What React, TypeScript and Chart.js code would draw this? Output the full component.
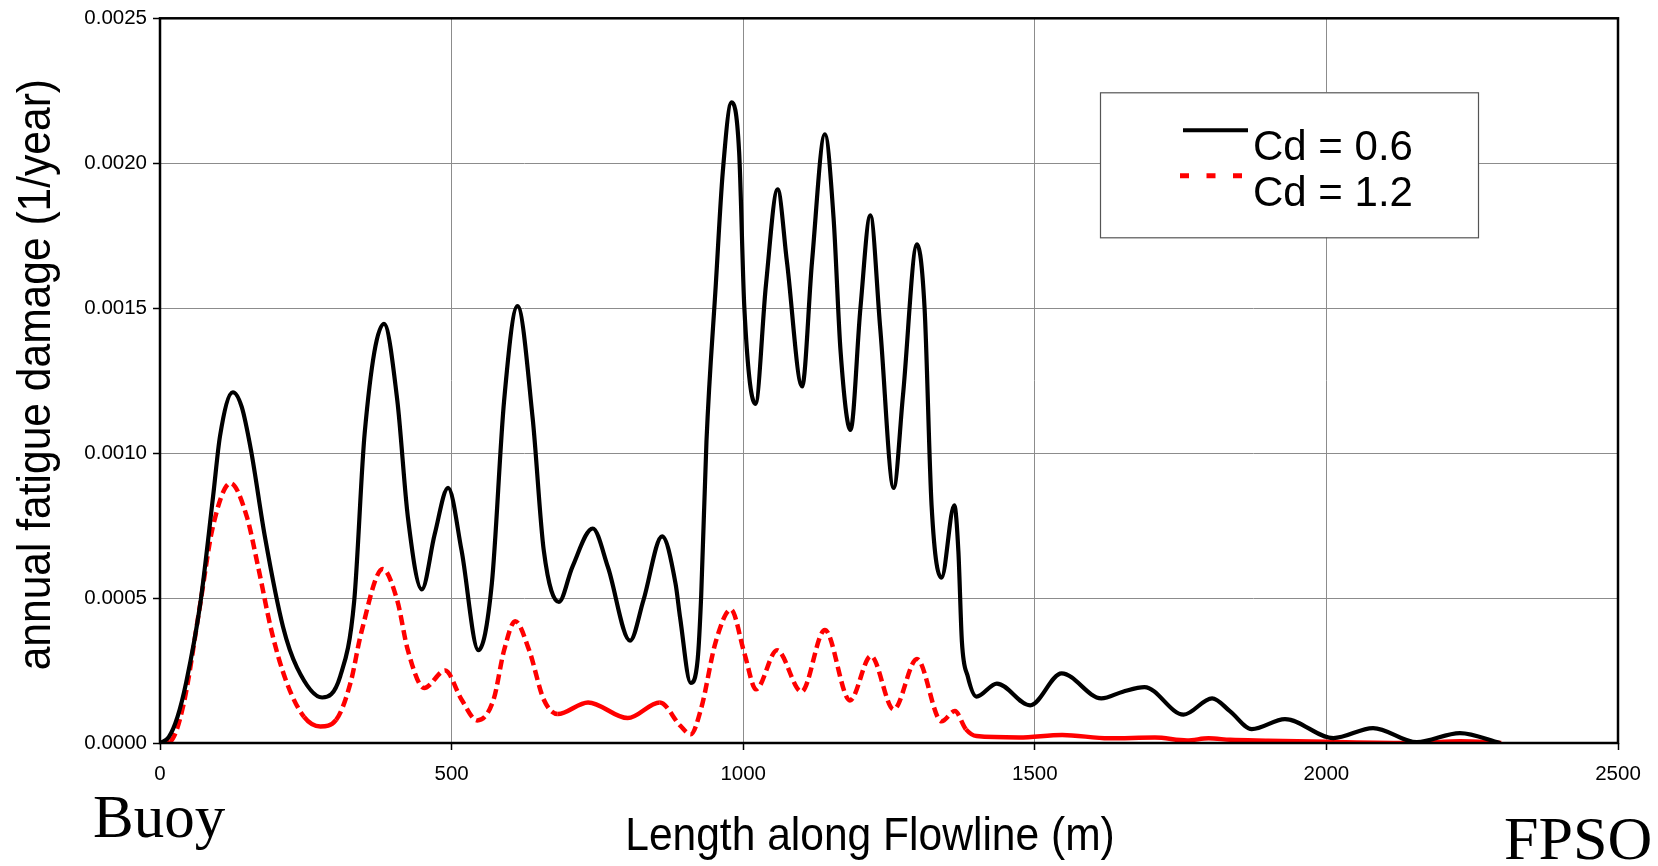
import React, { useEffect, useRef } from 'react';
import { Chart, registerables } from 'chart.js';

Chart.register(...registerables);

// ---- text ----
const seriesLabels = ['Cd = 0.6', 'Cd = 1.2'];
const xAxisTitle = 'Length along Flowline (m)';
const yAxisTitle = 'annual fatigue damage (1/year)';
const leftEndLabel = 'Buoy';
const rightEndLabel = 'FPSO';

// ---- ticks ----
const xTicks = [0, 500, 1000, 1500, 2000, 2500];
const yTicks = [0, 0.0005, 0.001, 0.0015, 0.002, 0.0025];

// ---- Cd = 0.6 (black, solid) ----
const cd06X = [
  0, 15, 30, 45, 69, 91, 103, 125, 140, 156, 180, 211, 235, 278, 309, 333, 351, 384, 407, 425,
  449, 471, 494, 517, 546, 569, 590, 613, 639, 658, 684, 707, 742, 768, 806, 829, 861, 884, 892, 910,
  922, 928, 937, 953, 965, 980, 993, 1002, 1021, 1039, 1059, 1075, 1101, 1118, 1140, 1155, 1167, 1184, 1201, 1218,
  1235, 1258, 1274, 1298, 1311, 1323, 1340, 1362, 1369, 1375, 1385, 1400, 1435, 1492, 1546, 1614, 1651, 1688, 1755, 1804,
  1835, 1872, 1929, 2012, 2080, 2155, 2229, 2298,
];
const cd06Y = [
  0, 0.00002, 0.00009, 0.00021, 0.00048, 0.00085, 0.00106, 0.00121, 0.00116, 0.00101, 0.00071, 0.0004, 0.00026, 0.000157, 0.00023, 0.00049, 0.00107, 0.001446, 0.00118, 0.00078,
  0.00053, 0.00072, 0.00088, 0.000665, 0.00032, 0.00055, 0.00118, 0.001507, 0.00112, 0.000665, 0.000487, 0.000607, 0.00074, 0.000607, 0.000353, 0.000493, 0.000713, 0.00055, 0.00043, 0.000207,
  0.00029, 0.00051, 0.00104, 0.00158, 0.00197, 0.00221, 0.00204, 0.0015, 0.00117, 0.00158, 0.00191, 0.00166, 0.00123, 0.00166, 0.0021, 0.00181, 0.00135, 0.00108, 0.0015, 0.00182,
  0.00143, 0.00088, 0.0012, 0.00172, 0.0015, 0.00082, 0.00057, 0.00082, 0.00066, 0.00035, 0.00023, 0.00016, 0.000205, 0.00013, 0.00024, 0.000154, 0.000177, 0.000193, 0.0000977, 0.000154,
  0.000109, 0.000048, 0.0000825, 0.000017, 0.0000516, 0.000003, 0.0000344, 0,
];

// ---- Cd = 1.2 (red, dashed) ----
const cd12X = [
  0, 17, 40, 69, 90, 121, 149, 168, 192, 217, 247, 275, 302, 327, 345, 382, 407, 425, 453, 489,
  517, 544, 572, 590, 609, 633, 658, 682, 734, 802, 857, 892, 910, 928, 953, 979, 1002, 1022, 1058, 1100,
  1140, 1183, 1219, 1258, 1298, 1340, 1363, 1382, 1400, 1473, 1547, 1627, 1706, 1761, 1798, 1835, 1900, 2000, 2150, 2229,
  2300,
];
const cd12Y = [
  0, 0.000005, 0.00013, 0.00048, 0.00074, 0.000896, 0.00078, 0.00061, 0.00038, 0.00021, 0.00009, 0.000057, 0.00008, 0.00021, 0.00038, 0.0006, 0.00049, 0.00032, 0.00019, 0.00025,
  0.00015, 0.000078, 0.00015, 0.00032, 0.00042, 0.00032, 0.00015, 0.0001, 0.00014, 0.000086, 0.00014, 0.00006, 0.00003, 0.00012, 0.00035, 0.00046, 0.00031, 0.000185, 0.00032, 0.000177,
  0.00039, 0.000147, 0.0003, 0.000116, 0.00029, 0.000075, 0.00011, 0.000047, 0.000024, 0.000019, 0.000028, 0.000016, 0.000019, 0.000009, 0.000016, 0.000011, 0.000008, 0.000004, 0, 0.000006,
  0,
];

const SANS = '"Liberation Sans", Arial, Helvetica, sans-serif';
const SERIF = '"Liberation Serif", "Times New Roman", serif';
const BLACK = '#000000';
const RED = '#ff0000';

const decorPlugin = {
  id: 'decor',
  afterDatasetsDraw(chart: any) {
    const { ctx, chartArea: ca } = chart;
    ctx.save();
    // plot frame
    ctx.strokeStyle = '#000';
    ctx.lineWidth = 2.5;
    ctx.strokeRect(ca.left, ca.top, ca.right - ca.left, ca.bottom - ca.top);

    // legend box
    const lx = ca.left + 940;
    const ly = ca.top + 74;
    const lw = 378;
    const lh = 145;
    ctx.fillStyle = '#fff';
    ctx.fillRect(lx, ly, lw, lh);
    ctx.strokeStyle = '#555';
    ctx.lineWidth = 1.2;
    ctx.strokeRect(lx + 0.5, ly + 0.5, lw, lh);

    // samples
    ctx.lineCap = 'butt';
    ctx.strokeStyle = BLACK;
    ctx.lineWidth = 4;
    ctx.setLineDash([]);
    ctx.beginPath();
    ctx.moveTo(lx + 83, ly + 38);
    ctx.lineTo(lx + 148, ly + 38);
    ctx.stroke();

    ctx.strokeStyle = RED;
    ctx.lineWidth = 5;
    ctx.setLineDash([9, 17.5]);
    ctx.beginPath();
    ctx.moveTo(lx + 80, ly + 83.5);
    ctx.lineTo(lx + 143, ly + 83.5);
    ctx.stroke();
    ctx.setLineDash([]);

    ctx.fillStyle = '#000';
    ctx.font = `42px ${SANS}`;
    ctx.textAlign = 'left';
    ctx.textBaseline = 'alphabetic';
    ctx.fillText(seriesLabels[0], lx + 153, ly + 67.5);
    ctx.fillText(seriesLabels[1], lx + 153, ly + 113.5);
    ctx.restore();
  },
  afterDraw(chart: any) {
    const { ctx, chartArea: ca } = chart;
    ctx.save();
    ctx.fillStyle = '#000';
    ctx.textBaseline = 'alphabetic';

    // x axis title
    ctx.save();
    ctx.translate(ca.left + 710, ca.bottom + 107);
    ctx.scale(0.925, 1);
    ctx.font = `46px ${SANS}`;
    ctx.textAlign = 'center';
    ctx.fillText(xAxisTitle, 0, 0);
    ctx.restore();

    // y axis title
    ctx.save();
    ctx.translate(ca.left - 110, (ca.top + ca.bottom) / 2 - 6);
    ctx.rotate(-Math.PI / 2);
    ctx.scale(0.925, 1);
    ctx.font = `46px ${SANS}`;
    ctx.textAlign = 'center';
    ctx.fillText(yAxisTitle, 0, 0);
    ctx.restore();

    // end labels
    ctx.textAlign = 'left';
    ctx.font = `61px ${SERIF}`;
    ctx.fillText(leftEndLabel, ca.left - 67, ca.bottom + 94);
    ctx.font = `62px ${SERIF}`;
    ctx.fillText(rightEndLabel, ca.right - 114, ca.bottom + 116);
    ctx.restore();
  },
};

function toPoints(xs: number[], ys: number[]) {
  return xs.map((x, i) => ({ x, y: ys[i] }));
}

export default function App() {
  const canvasRef = useRef<HTMLCanvasElement | null>(null);

  useEffect(() => {
    if (!canvasRef.current) return;
    const chart = new Chart(canvasRef.current, {
      type: 'line',
      data: {
        datasets: [
          {
            label: seriesLabels[0],
            data: toPoints(cd06X, cd06Y),
            borderColor: BLACK,
            borderWidth: 4.2,
            pointRadius: 0,
            cubicInterpolationMode: 'monotone',
            fill: false,
          },
          {
            label: seriesLabels[1],
            data: toPoints(cd12X, cd12Y),
            borderColor: RED,
            borderWidth: 4.5,
            pointRadius: 0,
            cubicInterpolationMode: 'monotone',
            fill: false,
            segment: {
              borderDash: (c: any) => {
                const dx = Math.abs(c.p1.x - c.p0.x);
                const dy = Math.abs(c.p1.y - c.p0.y);
                return dy > 0.7 * dx ? [10, 5] : [];
              },
            },
          },
        ],
      },
      options: {
        animation: false,
        responsive: true,
        maintainAspectRatio: false,
        parsing: false as any,
        layout: { padding: { top: 16, right: 40, bottom: 0, left: 0 } },
        plugins: {
          legend: { display: false },
          tooltip: { enabled: false },
          title: { display: false },
        },
        scales: {
          x: {
            type: 'linear',
            min: 0,
            max: 2500,
            afterFit: (s: any) => {
              s.height = 123;
            },
            afterBuildTicks: (s: any) => {
              s.ticks = xTicks.map((v) => ({ value: v }));
            },
            ticks: {
              color: '#000',
              font: { family: SANS, size: 20.5 },
              padding: 12,
              maxRotation: 0,
              autoSkip: false,
              callback: (v: any) => String(v),
            },
            grid: {
              color: '#8c8c8c',
              lineWidth: 1,
              tickColor: '#000',
              tickLength: 7,
              tickWidth: 1.5,
            },
            border: { display: false },
          },
          y: {
            type: 'linear',
            min: 0,
            max: 0.0025,
            afterFit: (s: any) => {
              s.width = 160;
            },
            afterBuildTicks: (s: any) => {
              s.ticks = yTicks.map((v) => ({ value: v }));
            },
            ticks: {
              color: '#000',
              font: { family: SANS, size: 20.5 },
              padding: 6,
              autoSkip: false,
              callback: (v: any) => Number(v).toFixed(4),
            },
            grid: {
              color: '#8c8c8c',
              lineWidth: 1,
              tickColor: '#000',
              tickLength: 7,
              tickWidth: 1.5,
            },
            border: { display: false },
          },
        },
      },
      plugins: [decorPlugin],
    });
    return () => chart.destroy();
  }, []);

  return (
    <div style={{ position: 'absolute', left: 0, top: 0, width: 1658, height: 866, background: '#fff' }}>
      <canvas ref={canvasRef} />
    </div>
  );
}
